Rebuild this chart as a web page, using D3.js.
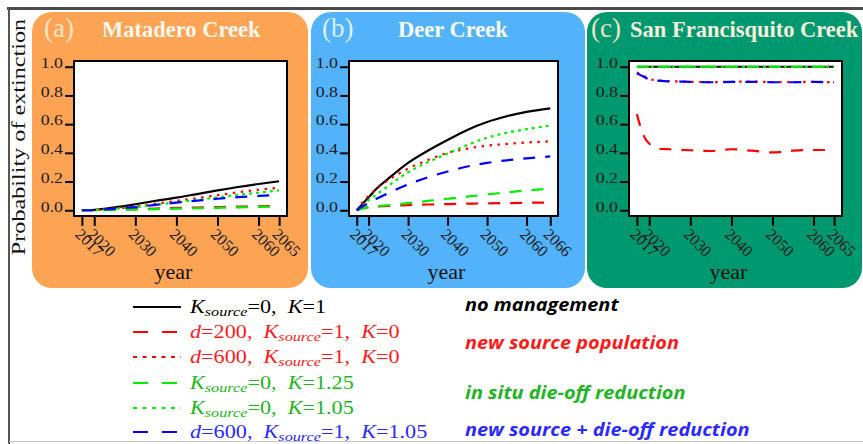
<!DOCTYPE html>
<html>
<head>
<meta charset="utf-8">
<script src="https://cdn.jsdelivr.net/npm/d3@7"></script>
<style>
  html, body { margin: 0; padding: 0; background: #ffffff; }
  svg { display: block; }
  text { white-space: pre; }
</style>
</head>
<body>
<svg id="chart" width="863" height="444"></svg>
<script>
// ---------------- data ----------------
const probTicks = [0, 0.2, 0.4, 0.6, 0.8, 1.0];

// (a) Matadero Creek
const yearsA = [2017, 2020, 2025, 2030, 2035, 2040, 2045, 2050, 2055, 2060, 2065];
const tickYearsA = [2017, 2020, 2030, 2040, 2050, 2060, 2065];
const mataderoNoMgmt      = [0, 0.003, 0.020, 0.042, 0.066, 0.088, 0.113, 0.138, 0.162, 0.183, 0.202];
const mataderoSource200   = [0, 0.001, 0.004, 0.008, 0.012, 0.016, 0.019, 0.022, 0.025, 0.028, 0.030];
const mataderoSource600   = [0, 0.002, 0.012, 0.026, 0.046, 0.065, 0.085, 0.105, 0.125, 0.143, 0.157];
const mataderoK125        = [0, 0.000, 0.002, 0.005, 0.008, 0.011, 0.014, 0.017, 0.020, 0.023, 0.026];
const mataderoK105        = [0, 0.001, 0.010, 0.022, 0.038, 0.055, 0.072, 0.090, 0.107, 0.123, 0.138];
const mataderoCombined    = [0, 0.002, 0.010, 0.022, 0.038, 0.053, 0.067, 0.080, 0.091, 0.100, 0.108];

// (b) Deer Creek
const yearsB = [2017, 2018, 2020, 2022, 2025, 2030, 2035, 2040, 2045, 2050, 2055, 2060, 2066];
const tickYearsB = [2017, 2020, 2030, 2040, 2050, 2060, 2066];
const deerNoMgmt      = [0, 0.030, 0.090, 0.150, 0.220, 0.330, 0.415, 0.490, 0.560, 0.615, 0.655, 0.685, 0.710];
const deerSource200   = [0, 0.012, 0.022, 0.027, 0.030, 0.036, 0.040, 0.043, 0.046, 0.048, 0.050, 0.052, 0.054];
const deerSource600   = [0, 0.040, 0.100, 0.150, 0.210, 0.290, 0.350, 0.400, 0.430, 0.450, 0.462, 0.472, 0.480];
const deerK125        = [0, 0.008, 0.020, 0.027, 0.035, 0.050, 0.065, 0.080, 0.095, 0.110, 0.125, 0.138, 0.150];
const deerK105        = [0, 0.020, 0.070, 0.110, 0.170, 0.265, 0.335, 0.395, 0.455, 0.505, 0.540, 0.565, 0.590];
const deerCombined    = [0, 0.020, 0.050, 0.080, 0.120, 0.180, 0.230, 0.270, 0.305, 0.330, 0.348, 0.362, 0.375];

// (c) San Francisquito Creek
const yearsC = [2017, 2018, 2019, 2020, 2022, 2025, 2030, 2035, 2040, 2045, 2050, 2055, 2060, 2065];
const tickYearsC = [2017, 2020, 2030, 2040, 2050, 2060, 2065];
const sfNoMgmt      = [1, 1, 1, 1, 1, 1, 1, 1, 1, 1, 1, 1, 1, 1];
const sfSource200   = [0.670, 0.570, 0.500, 0.465, 0.430, 0.425, 0.418, 0.413, 0.425, 0.415, 0.403, 0.415, 0.420, 0.420];
const sfSource600   = [0.960, 0.945, 0.930, 0.915, 0.905, 0.900, 0.895, 0.893, 0.895, 0.897, 0.893, 0.893, 0.895, 0.892];
const sfK125        = [1, 1, 1, 1, 1, 1, 1, 1, 1, 1, 1, 1, 1, 1];
const sfK105        = [1, 1, 1, 1, 1, 1, 1, 1, 1, 1, 1, 1, 1, 1];
const sfCombined    = [0.955, 0.940, 0.925, 0.912, 0.903, 0.898, 0.895, 0.892, 0.894, 0.895, 0.892, 0.892, 0.894, 0.891];

const panelLetters = ["(a)", "(b)", "(c)"];
const panelNames = ["Matadero Creek", "Deer Creek", "San Francisquito Creek"];

// legend: *x* = italic, _x_ = italic subscript
const legendLabels = [
  "*K*_source_=0,  *K*=1",
  "*d*=200,  *K*_source_=1,  *K*=0",
  "*d*=600,  *K*_source_=1,  *K*=0",
  "*K*_source_=0,  *K*=1.25",
  "*K*_source_=0,  *K*=1.05",
  "*d*=600,  *K*_source_=1,  *K*=1.05"
];
const groupLabels = ["no management", "new source population", "in situ die-off reduction", "new source + die-off reduction"];

// ---------------- styling ----------------
const seriesStyle = [
  { color: "#000000", dash: null,      legendDash: null },      // no management
  { color: "#ff0000", dash: "12,10",   legendDash: "15,14" },   // d=200 source
  { color: "#ff0000", dash: "2.5,5.5", legendDash: "4,5.5" },   // d=600 source
  { color: "#00ee00", dash: "12,10",   legendDash: "15,14" },   // K=1.25
  { color: "#00ee00", dash: "3,4",     legendDash: "4,5.5" },   // K=1.05
  { color: "#0000ff", dash: "12,10",   legendDash: "15,14" }    // combined
];
const legendTextColors = ["#000000", "#ff1a1a", "#ff1a1a", "#22b522", "#22b522", "#2a2aff"];
const groupTextColors = ["#000000", "#ff1a1a", "#22b522", "#2a2aff"];

const panels = [
  { years: yearsA, ticks: tickYearsA,
    series: [mataderoNoMgmt, mataderoSource200, mataderoSource600, mataderoK125, mataderoK105, mataderoCombined],
    bg: "#fca454", rect: [32, 12, 276, 276], box: [74, 61, 287, 216],
    letterColor: "#fde3c6", nameColor: "#fff6ec", letterX: 44, nameX: 102 },
  { years: yearsB, ticks: tickYearsB,
    series: [deerNoMgmt, deerSource200, deerSource600, deerK125, deerK105, deerCombined],
    bg: "#52b2fa", rect: [311, 12, 274, 276], box: [349, 61, 558, 216],
    letterColor: "#dcefff", nameColor: "#fbfdff", letterX: 322, nameX: 398 },
  { years: yearsC, ticks: tickYearsC,
    series: [sfNoMgmt, sfSource200, sfSource600, sfK125, sfK105, sfCombined],
    bg: "#00986f", rect: [587, 12, 275, 276], box: [629, 61, 842, 216],
    letterColor: "#ece4c6", nameColor: "#f4f0dc", letterX: 591, nameX: 630 }
];

const svg = d3.select("#chart");
const serif = "'Liberation Serif', 'Times New Roman', serif";

// outer frame
svg.append("line").attr("x1", 7).attr("x2", 863).attr("y1", 8.5).attr("y2", 8.5)
  .attr("stroke", "#4a4a4a").attr("stroke-width", 3);
svg.append("line").attr("x1", 9).attr("x2", 9).attr("y1", 8).attr("y2", 444)
  .attr("stroke", "#555555").attr("stroke-width", 2);
svg.append("line").attr("x1", 9).attr("x2", 863).attr("y1", 441.5).attr("y2", 441.5)
  .attr("stroke", "#c4c4c4").attr("stroke-width", 1);

panels.forEach((p, i) => {
  const g = svg.append("g");
  const [rx, ry, rw, rh] = p.rect;
  g.append("rect").attr("x", rx).attr("y", ry).attr("width", rw).attr("height", rh)
    .attr("rx", 20).attr("ry", 20).attr("fill", p.bg);

  // titles
  g.append("text").attr("x", p.letterX).attr("y", 37)
    .attr("font-family", serif).attr("font-size", 27).attr("fill", p.letterColor)
    .text(panelLetters[i]);
  g.append("text").attr("x", p.nameX).attr("y", 37)
    .attr("font-family", serif).attr("font-weight", "bold").attr("font-size", 22.5)
    .attr("fill", p.nameColor).text(panelNames[i]);

  const [bx0, by0, bx1, by1] = p.box;
  const first = p.years[0], last = p.years[p.years.length - 1];
  const pad = 0.04 * (last - first);
  const x = d3.scaleLinear().domain([first - pad, last + pad]).range([bx0, bx1]);
  const y = d3.scaleLinear().domain([-0.04, 1.04]).range([by1, by0]);

  g.append("rect").attr("x", bx0).attr("y", by0).attr("width", bx1 - bx0).attr("height", by1 - by0)
    .attr("fill", "#ffffff");

  // series
  const line = d3.line().x(d => x(d[0])).y(d => y(d[1])).curve(d3.curveMonotoneX);
  p.series.forEach((vals, k) => {
    const pts = p.years.map((yr, j) => [yr, vals[j]]);
    g.append("path").datum(pts).attr("d", line)
      .attr("fill", "none").attr("stroke", seriesStyle[k].color).attr("stroke-width", 2.2)
      .attr("stroke-dasharray", seriesStyle[k].dash);
  });

  // plot frame
  g.append("rect").attr("x", bx0).attr("y", by0).attr("width", bx1 - bx0).attr("height", by1 - by0)
    .attr("fill", "none").attr("stroke", "#000").attr("stroke-width", 2);

  // y axis
  const ya = g.append("g").attr("transform", `translate(${bx0},0)`)
    .call(d3.axisLeft(y).tickValues(probTicks).tickFormat(d3.format(".1f")).tickSize(9).tickPadding(2));
  ya.select(".domain").remove();
  ya.selectAll(".tick line").attr("stroke", "#000").attr("stroke-width", 2);
  ya.selectAll(".tick text").attr("font-family", serif).attr("font-size", 15.5)
    .attr("fill", "#1a1a1a").attr("dy", "0.05em")
    .attr("transform", "translate(-11,0) scale(1.15,1) translate(11,0)");

  // x axis
  const xa = g.append("g").attr("transform", `translate(0,${by1})`)
    .call(d3.axisBottom(x).tickValues(p.ticks).tickFormat(d3.format("d")).tickSize(10));
  xa.select(".domain").remove();
  xa.selectAll(".tick line").attr("stroke", "#000").attr("stroke-width", 2);
  xa.selectAll(".tick text").attr("font-family", serif).attr("font-size", 16)
    .attr("fill", "#1a1a1a").attr("y", null).attr("dy", "0.72em")
    .attr("text-anchor", "start").attr("transform", "translate(0,11) rotate(45)");

  g.append("text").attr("x", (bx0 + bx1) / 2 - 7).attr("y", 279)
    .attr("text-anchor", "middle").attr("font-family", serif).attr("font-size", 22)
    .attr("fill", "#111").text("year");
});

// y axis title
svg.append("text").attr("transform", "translate(25,137) rotate(-90) scale(1.24,1)")
  .attr("text-anchor", "middle").attr("font-family", serif).attr("font-size", 19.5)
  .attr("fill", "#111").text("Probability of extinction");

// ---------------- legend ----------------
const legendRowY = [307, 332, 357, 383, 408, 432];
const leg = svg.append("g");
legendLabels.forEach((lab, k) => {
  const yy = legendRowY[k];
  leg.append("line").attr("x1", 133).attr("x2", 181).attr("y1", yy).attr("y2", yy)
    .attr("stroke", seriesStyle[k].color).attr("stroke-width", 2)
    .attr("stroke-dasharray", seriesStyle[k].legendDash);
  const t = leg.append("text").attr("transform", `translate(190,${yy + 5.5}) scale(1.2,1)`)
    .attr("font-family", serif).attr("font-size", 18.5).attr("fill", legendTextColors[k]);
  // parse the small markup into tspans
  const parts = lab.split(/(\*[^*]+\*|_[^_]+_)/).filter(s => s.length);
  let sub = false;
  parts.forEach(s => {
    if (s[0] === "*") {
      t.append("tspan").attr("font-style", "italic").attr("dy", sub ? -3.5 : 0).text(s.slice(1, -1));
      sub = false;
    } else if (s[0] === "_") {
      t.append("tspan").attr("font-style", "italic").attr("font-size", 13.5).attr("dy", 3.5).text(s.slice(1, -1));
      sub = true;
    } else {
      t.append("tspan").attr("dy", sub ? -3.5 : 0).text(s);
      sub = false;
    }
  });
});

const groupY = [311, 349, 399, 436];
groupLabels.forEach((lab, k) => {
  svg.append("text").attr("transform", `translate(465,${groupY[k]}) scale(1.17,1)`)
    .attr("font-family", "'Open Sans', 'Noto Sans', sans-serif").attr("font-weight", "bold")
    .attr("font-style", "italic").attr("font-size", 17).attr("fill", groupTextColors[k])
    .text(lab);
});
</script>
</body>
</html>
